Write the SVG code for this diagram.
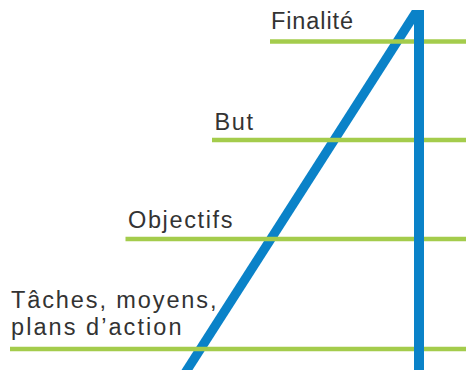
<svg xmlns="http://www.w3.org/2000/svg" width="466" height="370" viewBox="0 0 466 370">
  <style>
    .label { font-family: "Liberation Sans", Arial, Helvetica, sans-serif; font-size: 23.5px; fill: #333333; }
    .level { stroke: #a4cc4c; stroke-width: 4.5; fill: none; }
    .beam { fill: #0a82c8; }
  </style>
  <rect width="466" height="370" fill="#ffffff"/>

  <!-- rising diagonal of the "A" -->
  <g id="connectors">
    <polygon class="beam" points="180.2,372 191.2,372 422.9,10 411.9,10"/>
  </g>

  <!-- hierarchy levels -->
  <g id="finalite">
    <line class="level" x1="270" y1="41.5" x2="466" y2="41.5"/>
    <text class="label" x="271" y="28.5" textLength="82" lengthAdjust="spacing">Finalité</text>
  </g>
  <g id="but">
    <line class="level" x1="212" y1="140" x2="466" y2="140"/>
    <text class="label" x="214.5" y="129.5" textLength="38.5" lengthAdjust="spacing">But</text>
  </g>
  <g id="objectifs">
    <line class="level" x1="125.5" y1="239" x2="466" y2="239"/>
    <text class="label" x="128" y="228" textLength="104.5" lengthAdjust="spacing">Objectifs</text>
  </g>
  <g id="taches">
    <line class="level" x1="10" y1="349" x2="466" y2="349"/>
    <text class="label" x="11" y="308" textLength="205.5" lengthAdjust="spacing">Tâches, moyens,</text>
    <text class="label" x="11" y="335" textLength="170.5" lengthAdjust="spacing">plans d’action</text>
  </g>

  <!-- vertical stem -->
  <g id="stem">
    <rect class="beam" x="414" y="10" width="10" height="360"/>
  </g>
</svg>
